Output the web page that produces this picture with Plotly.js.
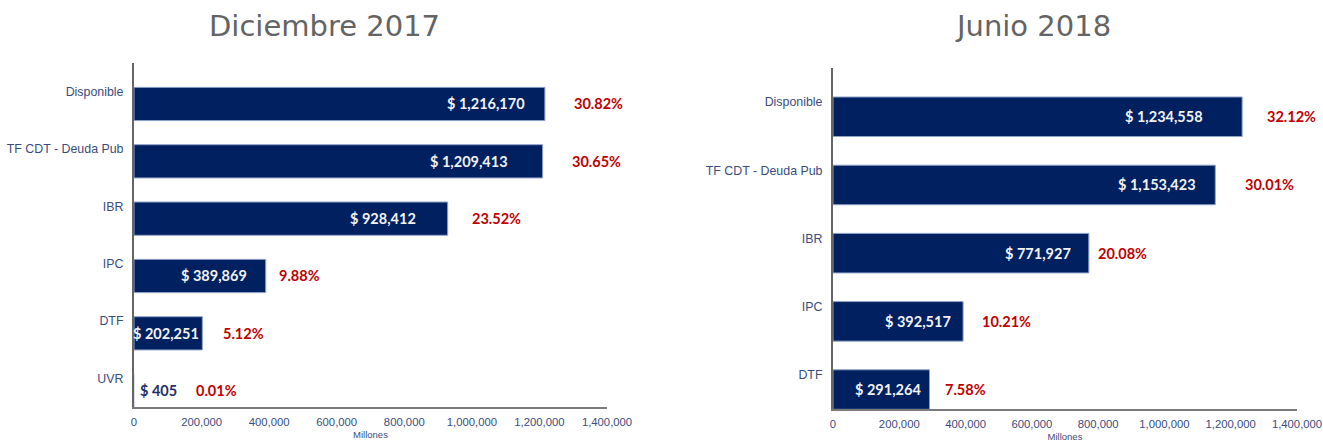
<!DOCTYPE html>
<html>
<head>
<meta charset="utf-8">
<script src="https://cdn.plot.ly/plotly-3.0.1.min.js"></script>
<style>
  html, body { margin: 0; padding: 0; background: #ffffff; }
  #chart { width: 1323px; height: 442px; }
</style>
</head>
<body>
<div id="chart"></div>
<script>
// ---------- DATA ----------
const titleDec = 'Diciembre 2017';
const titleJun = 'Junio 2018';
const categoriesDec = ['Disponible', 'TF CDT - Deuda Pub', 'IBR', 'IPC', 'DTF', 'UVR'];
const valuesDec = [1216170, 1209413, 928412, 389869, 202251, 405];
const pctDec = ['30.82%', '30.65%', '23.52%', '9.88%', '5.12%', '0.01%'];
const categoriesJun = ['Disponible', 'TF CDT - Deuda Pub', 'IBR', 'IPC', 'DTF'];
const valuesJun = [1234558, 1153423, 771927, 392517, 291264];
const pctJun = ['32.12%', '30.01%', '20.08%', '10.21%', '7.58%'];
const xTickVals = [0, 200000, 400000, 600000, 800000, 1000000, 1200000, 1400000];
const xAxisTitle = 'Millones';

// ---------- STYLE ----------
const W = 1323, H = 442;
const barColor = '#002060';
const barEdge = '#8FA3C8';
const labelColor = '#3A4C7E';
const pctColor = '#C00000';
const axisLineColor = '#7A7A7A';
const barWidth = 0.58;
const barOffset = -0.075;          // bars sit a little below their category label
const barShift = barOffset + barWidth / 2;
// per-label pixel nudges (label styling)
const valShiftDec = [-18, -33, -30, -17, -1, 45];
const pctShiftDec = [27, 27, 22, 11, 19, 60];
const valShiftJun = [-37, -17, -16, -10, -7];
const pctShiftJun = [23, 28, 7, 17, 13];
const insideColor = ['#F2F2F2', '#F2F2F2', '#F2F2F2', '#F2F2F2', '#F2F2F2', '#1F3068'];

const fmt = v => '$ ' + v.toLocaleString('en-US');

function barTrace(cats, vals, xa, ya) {
  return {
    type: 'bar', orientation: 'h',
    y: cats, x: vals, xaxis: xa, yaxis: ya,
    width: barWidth, offset: barOffset,
    marker: { color: barColor,
              line: { color: barEdge, width: vals.map(v => (v < 10000 ? 0 : 1)) } },
    hoverinfo: 'skip', showlegend: false
  };
}

function labels(cats, vals, pcts, vShift, pShift, xr, yr) {
  const out = [];
  cats.forEach((c, i) => {
    out.push({
      xref: xr, yref: yr, x: vals[i], y: i + barShift,
      text: fmt(vals[i]), showarrow: false,
      xanchor: 'right', yanchor: 'middle', xshift: vShift[i],
      font: { family: 'Lato, sans-serif', size: 14.5, weight: 700, color: insideColor[i] }
    });
    out.push({
      xref: xr, yref: yr, x: vals[i], y: i + barShift,
      text: pcts[i], showarrow: false,
      xanchor: 'left', yanchor: 'middle', xshift: pShift[i],
      font: { family: 'Lato, sans-serif', size: 14.5, weight: 700, color: pctColor }
    });
  });
  return out;
}

const commonX = {
  range: [0, 1400000], tickvals: xTickVals, tickformat: ',d',
  showgrid: false, zeroline: false, showline: true,
  linecolor: axisLineColor, linewidth: 2,
  ticks: 'outside', ticklen: 3, tickcolor: 'rgba(0,0,0,0)',
  tickfont: { family: 'Liberation Sans, Arial, sans-serif', size: 11.3, color: labelColor },
  title: { text: xAxisTitle, standoff: 5,
           font: { family: 'Liberation Sans, Arial, sans-serif', size: 9.5, color: labelColor } },
  fixedrange: true
};
const commonY = {
  type: 'category', showgrid: false, zeroline: false, showline: true,
  linecolor: '#666666', linewidth: 2,
  ticks: 'outside', ticklen: 6, tickcolor: 'rgba(0,0,0,0)',
  tickfont: { family: 'Liberation Sans, Arial, sans-serif', size: 12.4, color: labelColor },
  fixedrange: true
};

const data = [
  barTrace(categoriesDec, valuesDec, 'x', 'y'),
  barTrace(categoriesJun, valuesJun, 'x2', 'y2')
];

const layout = {
  width: W, height: H,
  margin: { l: 0, r: 0, t: 0, b: 0 },
  paper_bgcolor: '#ffffff', plot_bgcolor: '#ffffff',
  bargap: 0.4,
  xaxis: Object.assign({}, commonX, { domain: [134 / W, 607 / W], anchor: 'y' }),
  yaxis: Object.assign({}, commonY, {
    domain: [(H - 407) / H, (H - 63) / H], anchor: 'x',
    categoryorder: 'array', categoryarray: categoriesDec,
    range: [categoriesDec.length - 0.5, -0.5]
  }),
  xaxis2: Object.assign({}, commonX, { domain: [833 / W, 1297 / W], anchor: 'y2' }),
  yaxis2: Object.assign({}, commonY, {
    domain: [(H - 409) / H, (H - 68) / H], anchor: 'x2',
    categoryorder: 'array', categoryarray: categoriesJun,
    range: [categoriesJun.length - 0.5, -0.5]
  }),
  annotations: [
    { xref: 'paper', yref: 'paper', x: 324 / W, y: (H - 26) / H, xanchor: 'center', yanchor: 'middle',
      text: titleDec, showarrow: false,
      font: { family: 'DejaVu Sans, Verdana, sans-serif', size: 29, color: '#646464' } },
    { xref: 'paper', yref: 'paper', x: 1033 / W, y: (H - 26) / H, xanchor: 'center', yanchor: 'middle',
      text: titleJun, showarrow: false,
      font: { family: 'DejaVu Sans, Verdana, sans-serif', size: 29, color: '#646464' } }
  ].concat(
    labels(categoriesDec, valuesDec, pctDec, valShiftDec, pctShiftDec, 'x', 'y'),
    labels(categoriesJun, valuesJun, pctJun, valShiftJun, pctShiftJun, 'x2', 'y2')
  )
};

Plotly.newPlot('chart', data, layout, { displayModeBar: false, staticPlot: true });
</script>
</body>
</html>
